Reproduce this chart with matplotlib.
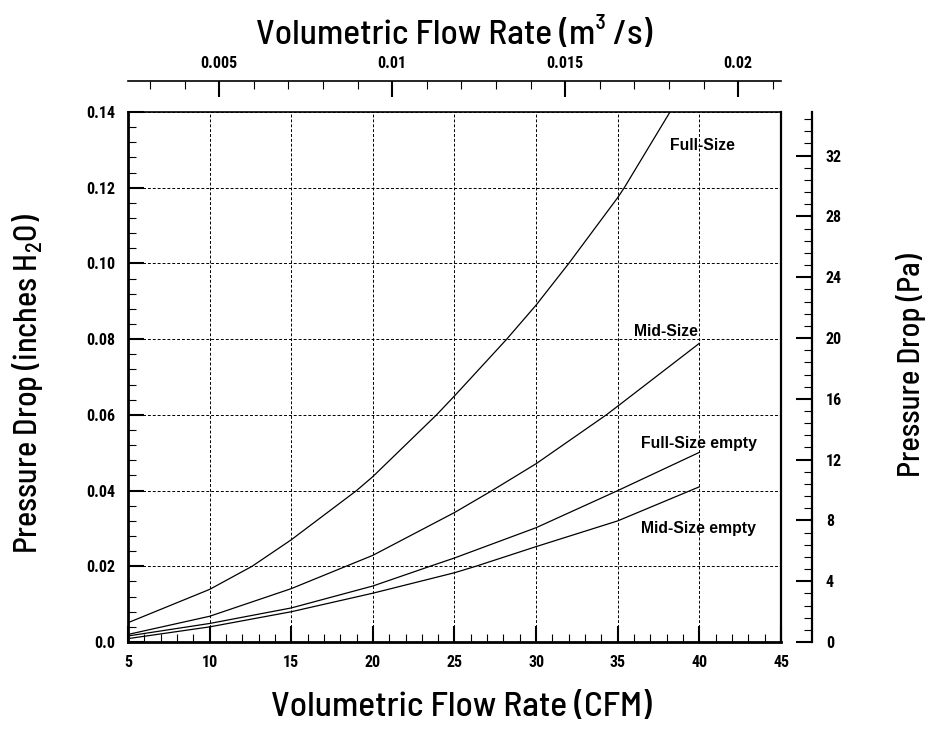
import numpy as np
import matplotlib.pyplot as plt
from matplotlib.ticker import MultipleLocator, FixedLocator, FixedFormatter

plt.rcParams['font.family'] = ['Roboto Condensed', 'Archivo Narrow', 'PT Sans Narrow',
                               'Liberation Sans Narrow', 'DejaVu Sans']
LABEL_FONT = ['Barlow Semi Condensed', 'Roboto Condensed', 'DejaVu Sans']

# flow in CFM, pressure drop in inches H2O
full_cfm = [5, 10, 12.6, 15, 19.0, 20, 23.9, 25, 28.2, 30, 32.0, 35, 35.4, 38.2]
full_dp = [0.0051, 0.0139, 0.020, 0.027, 0.040, 0.0437, 0.060, 0.0650, 0.080, 0.089, 0.100, 0.1174, 0.120, 0.140]

mid_cfm = [5, 10, 15, 18.35, 20, 25, 27.3, 30, 34.3, 35, 40]
mid_dp = [0.0020, 0.0068, 0.0141, 0.020, 0.0229, 0.0342, 0.040, 0.0471, 0.060, 0.0623, 0.0789]

full_empty_cfm = [5, 10, 15, 20, 23.5, 25, 30, 35, 40]
full_empty_dp = [0.0016, 0.0049, 0.0090, 0.0148, 0.020, 0.0222, 0.0302, 0.0400, 0.0501]

mid_empty_cfm = [5, 10, 15, 20, 25, 26.3, 30, 35, 40]
mid_empty_dp = [0.0009, 0.0040, 0.0080, 0.0129, 0.0183, 0.020, 0.0252, 0.0320, 0.0410]

names = ['Full-Size', 'Mid-Size', 'Full-Size empty', 'Mid-Size empty']
label_x = [38.2, 36.0, 36.4, 36.4]
label_y = [0.1312, 0.0819, 0.0525, 0.0299]

CFM_TO_M3S = 0.000471947
INH2O_TO_PA = 249.089

fig = plt.figure(figsize=(9.32, 7.29), dpi=100)
ax = fig.add_axes([0.1373, 0.1193, 0.7007, 0.7271])

curves = [(full_cfm, full_dp), (mid_cfm, mid_dp),
          (full_empty_cfm, full_empty_dp), (mid_empty_cfm, mid_empty_dp)]
for (x, y), name, lx, ly in zip(curves, names, label_x, label_y):
    ax.plot(x, y, color='black', lw=0.9)
    ax.text(lx, ly, name, fontsize=11.3, fontweight='bold',
            family=['Liberation Sans', 'DejaVu Sans'], ha='left', va='center')

ax.set_xlim(5, 45)
ax.set_ylim(0, 0.14)
ax.xaxis.set_major_locator(MultipleLocator(5))
ax.xaxis.set_minor_locator(MultipleLocator(1))
ax.yaxis.set_minor_locator(MultipleLocator(0.004))
ax.set_yticks(np.arange(0, 0.141, 0.02))
ax.set_yticklabels(['0.0', '0.02', '0.04', '0.06', '0.08', '0.10', '0.12', '0.14'])

ax.grid(True, which='major', color='black', ls=(0, (3, 2)), lw=0.7)
ax.tick_params(which='major', direction='in', length=11.5, width=1.5, labelsize=11.5, pad=9)
ax.tick_params(which='minor', direction='in', length=5.8, width=0.8)
ax.tick_params(which='both', right=False, top=False)
for lab in ax.get_xticklabels() + ax.get_yticklabels():
    lab.set_fontweight('bold')
ax.spines['left'].set_linewidth(2)
ax.spines['bottom'].set_linewidth(2)
ax.spines['top'].set_linewidth(1.2)
ax.spines['right'].set_linewidth(1.6)

ax.set_xlabel('Volumetric Flow Rate (CFM)', fontsize=25.5, family=LABEL_FONT,
              fontweight='medium')
ax.xaxis.set_label_coords(0.51, -0.094)
ax.set_ylabel('Pressure Drop (inches H$_\\mathregular{2}$O)', fontsize=23, family=LABEL_FONT,
              fontweight='medium')
ax.yaxis.set_label_coords(-0.127, 0.487)

# top axis in m3/s
top = ax.twiny()
top.set_xlim(5 * CFM_TO_M3S, 45 * CFM_TO_M3S)
top.xaxis.set_major_locator(FixedLocator([0.005, 0.01, 0.015, 0.02]))
top.xaxis.set_major_formatter(FixedFormatter(['0.005', '0.01', '0.015', '0.02']))
top.xaxis.set_minor_locator(MultipleLocator(0.001))
top.spines['top'].set_position(('outward', 22.3))
for s in ['left', 'right', 'bottom']:
    top.spines[s].set_visible(False)
top.spines['top'].set_linewidth(1.2)
top.tick_params(which='major', direction='in', length=11.5, width=1.5, labelsize=11.5, pad=7)
top.tick_params(which='minor', direction='in', length=5.8, width=0.8)
for lab in top.get_xticklabels():
    lab.set_fontweight('bold')
top.set_xlabel('Volumetric Flow Rate (m³ /s)', fontsize=25.5, family=LABEL_FONT,
               fontweight='medium', labelpad=9)

# right axis in Pa
right = ax.twinx()
right.set_ylim(0, 0.14 * INH2O_TO_PA)
right.yaxis.set_major_locator(MultipleLocator(4))
right.yaxis.set_minor_locator(MultipleLocator(0.8))
right.spines['right'].set_position(('outward', 22.3))
for s in ['left', 'top', 'bottom']:
    right.spines[s].set_visible(False)
right.spines['right'].set_linewidth(1.6)
right.tick_params(which='major', direction='in', length=11.5, width=1.5, labelsize=11.5, pad=10)
right.tick_params(which='minor', direction='in', length=5.8, width=0.8)
for lab in right.get_yticklabels():
    lab.set_fontweight('bold')
right.set_ylabel('Pressure Drop (Pa)', fontsize=22, family=LABEL_FONT, fontweight='medium')
right.yaxis.set_label_coords(1.176, 0.523)

fig.savefig('out.png', dpi=100)
